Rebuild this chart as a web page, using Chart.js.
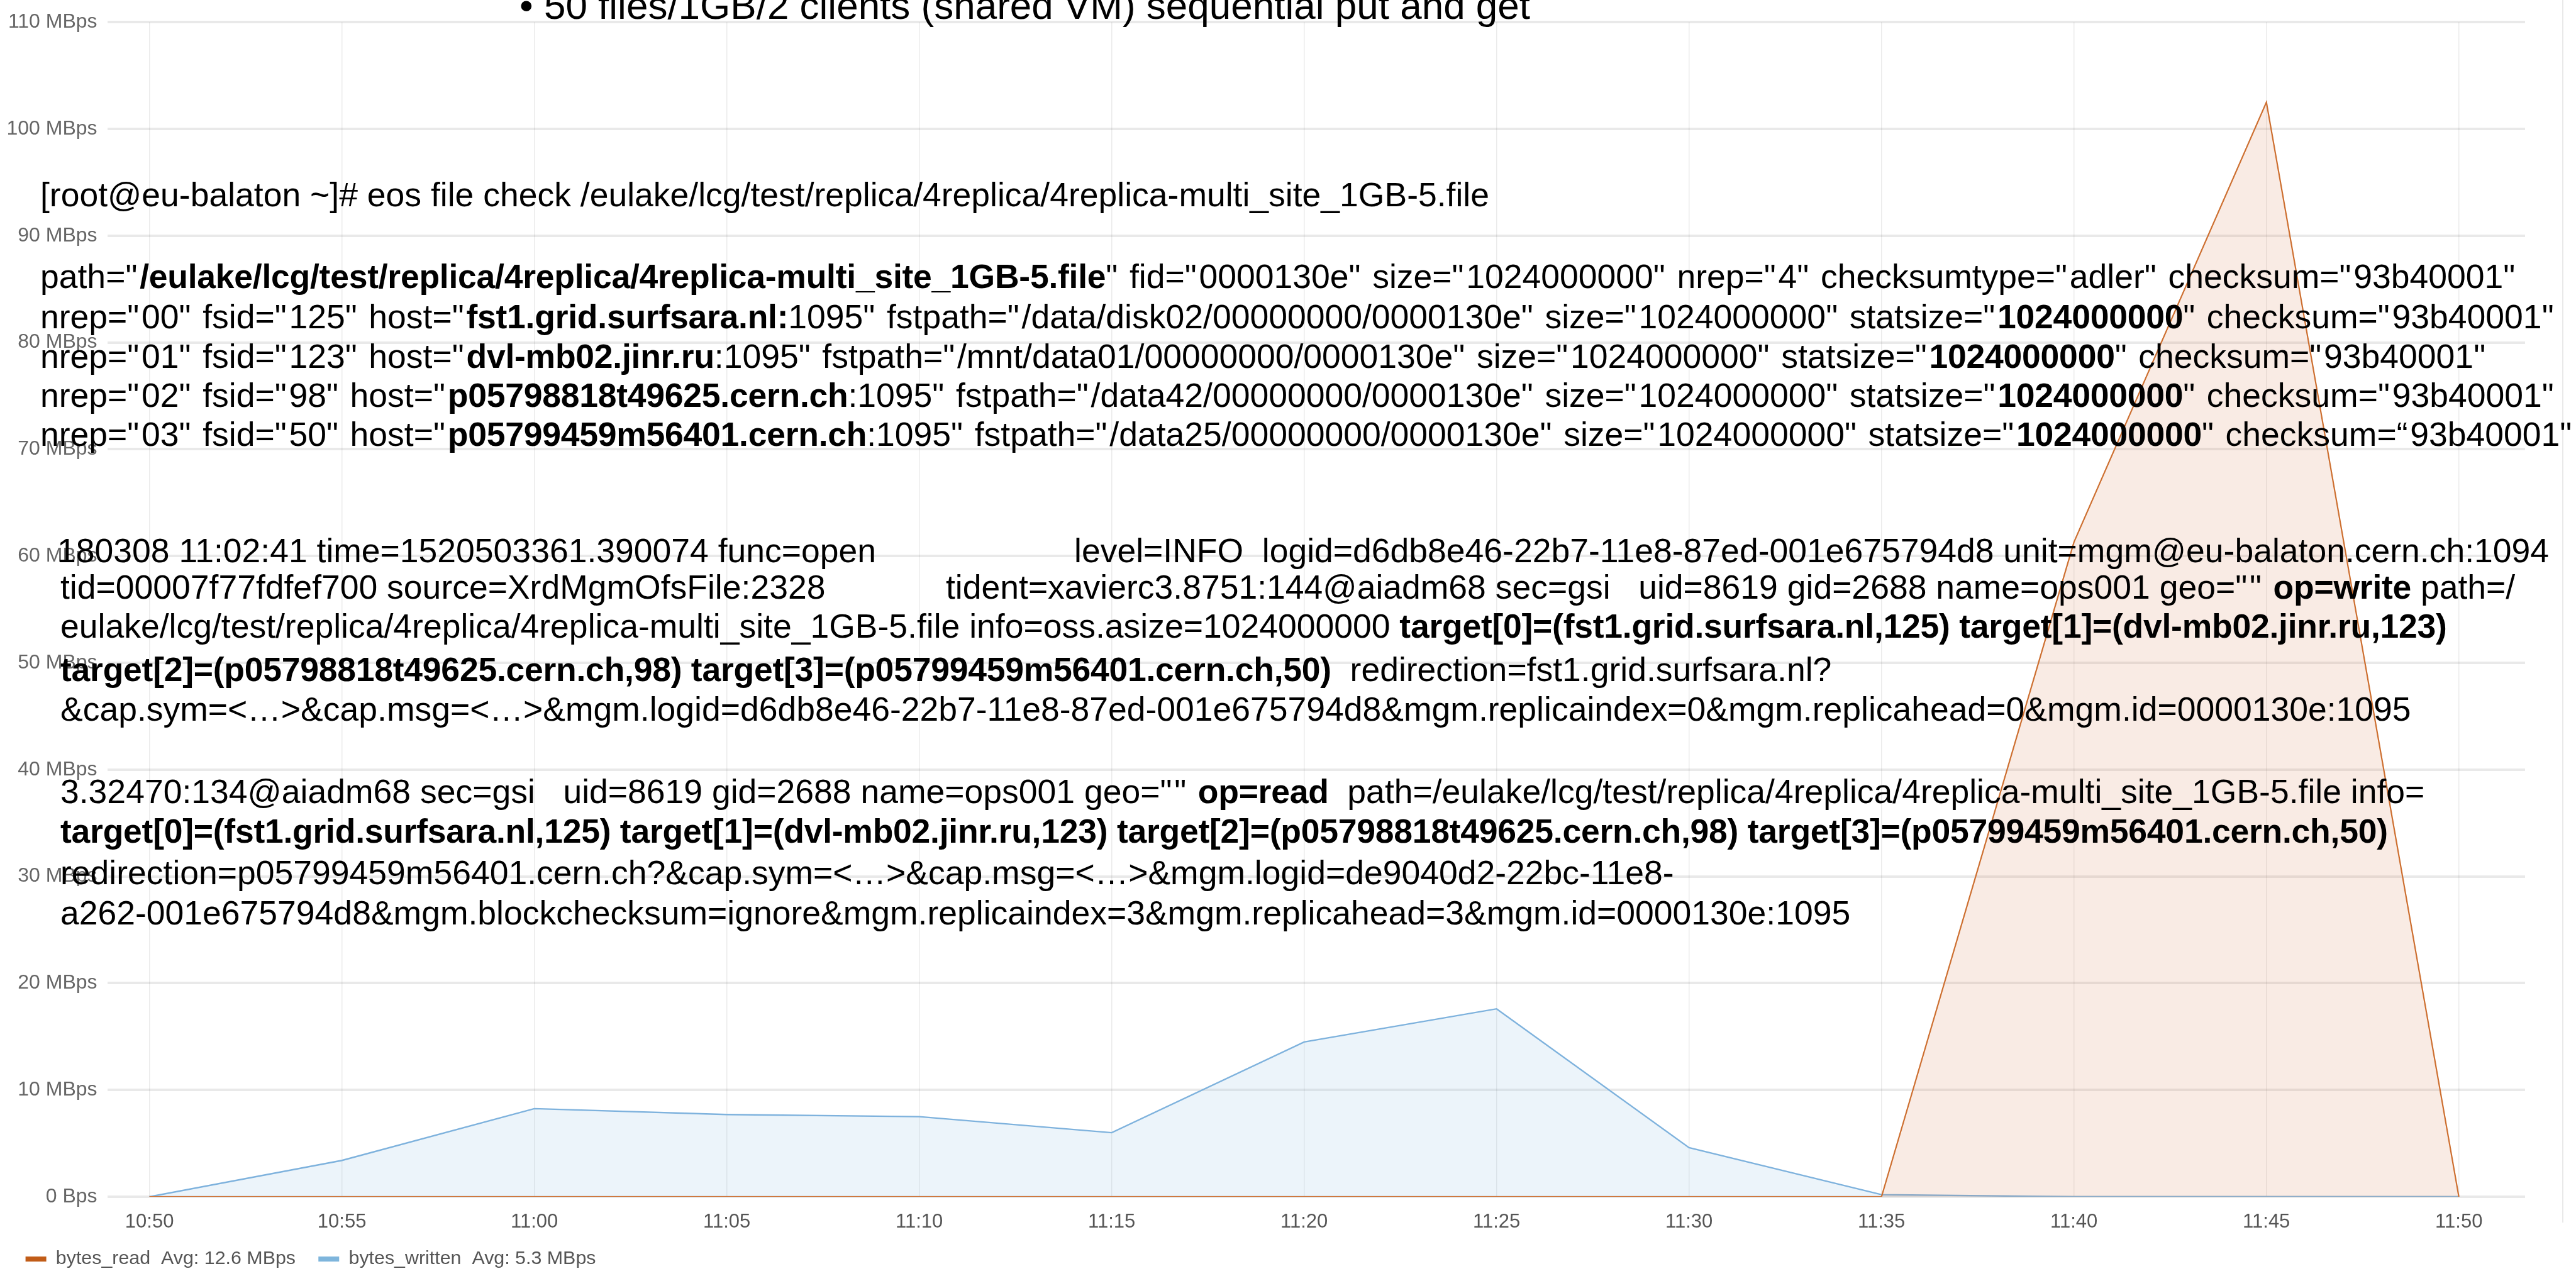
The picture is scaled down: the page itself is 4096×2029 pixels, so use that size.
<!DOCTYPE html>
<html>
<head>
<meta charset="utf-8">
<script src="https://cdn.jsdelivr.net/npm/chart.js@4.4.1/dist/chart.umd.min.js"></script>
<style>
  html, body { margin: 0; padding: 0; background: #fff; }
  #wrap { position: relative; width: 4096px; height: 2029px; overflow: hidden; }
  #chart { position: absolute; left: 0; top: 0; }
  .txt { position: absolute; white-space: pre; color: #000; line-height: 1;
         font-family: "Liberation Sans", Arial, sans-serif; }
  .txt b { font-weight: bold; letter-spacing: -0.25px; }
  .txt .q { letter-spacing: 0.07em; }  /* helvetica quotes are wider than arial's */
  #edge { position: absolute; left: 4074px; top: 0; width: 2px; height: 1944px; background: #e9e9e9; }
</style>
</head>
<body>
<div id="wrap">
  <canvas id="chart" width="4096" height="2029"></canvas>
  <div id="edge"></div>
  <div id="notes"></div>
</div>
<script>
// values, one point every 5 minutes
const times = ["10:50", "10:55", "11:00", "11:05", "11:10", "11:15", "11:20",
               "11:25", "11:30", "11:35", "11:40", "11:45", "11:50"];
const bytesRead = [0, 0, 0, 0, 0, 0, 0, 0, 0, 0, 61.3, 102.5, 0];          // MBps
const bytesWritten = [0, 3.4, 8.25, 7.7, 7.5, 6.0, 14.5, 17.6, 4.6, 0.2, 0, 0, 0]; // MBps
const yTicks = [0, 10, 20, 30, 40, 50, 60, 70, 80, 90, 100, 110];
const seriesNames = ["bytes_read", "bytes_written"];
const seriesAvg = ["12.6 MBps", "5.3 MBps"];

// slide text laid over the panel: [left, baseline, size, text], **...** is bold
const T = 53.5;
const notes = [
  [826, 30.6, 62, "• 50 files/1GB/2 clients (shared VM) sequential put and get"],

  [64, 328, T, "[root@eu-balaton ~]# eos file check /eulake/lcg/test/replica/4replica/4replica-multi_site_1GB-5.file"],
  [64, 458, T, 'path="**/eulake/lcg/test/replica/4replica/4replica-multi_site_1GB-5.file**" fid="0000130e" size="1024000000" nrep="4" checksumtype="adler" checksum="93b40001"'],
  [64, 522, T, 'nrep="00" fsid="125" host="**fst1.grid.surfsara.nl:**1095" fstpath="/data/disk02/00000000/0000130e" size="1024000000" statsize="**1024000000**" checksum="93b40001"'],
  [64, 585, T, 'nrep="01" fsid="123" host="**dvl-mb02.jinr.ru**:1095" fstpath="/mnt/data01/00000000/0000130e" size="1024000000" statsize="**1024000000**" checksum="93b40001"'],
  [64, 647.5, T, 'nrep="02" fsid="98" host="**p05798818t49625.cern.ch**:1095" fstpath="/data42/00000000/0000130e" size="1024000000" statsize="**1024000000**" checksum="93b40001"'],
  [64, 709.6, T, 'nrep="03" fsid="50" host="**p05799459m56401.cern.ch**:1095" fstpath="/data25/00000000/0000130e" size="1024000000" statsize="**1024000000**" checksum=“93b40001"'],

  [91, 894, T, "180308 11:02:41 time=1520503361.390074 func=open"],
  [1708, 894, T, "level=INFO  logid=d6db8e46-22b7-11e8-87ed-001e675794d8 unit=mgm@eu-balaton.cern.ch:1094"],
  [96, 952, T, "tid=00007f77fdfef700 source=XrdMgmOfsFile:2328"],
  [1504, 952, T, 'tident=xavierc3.8751:144@aiadm68 sec=gsi   uid=8619 gid=2688 name=ops001 geo="" **op=write** path=/'],
  [96, 1014, T, "eulake/lcg/test/replica/4replica/4replica-multi_site_1GB-5.file info=oss.asize=1024000000 **target[0]=(fst1.grid.surfsara.nl,125) target[1]=(dvl-mb02.jinr.ru,123)**"],
  [96, 1083, T, "**target[2]=(p05798818t49625.cern.ch,98) target[3]=(p05799459m56401.cern.ch,50)**  redirection=fst1.grid.surfsara.nl?"],
  [96, 1146, T, "&cap.sym=<…>&cap.msg=<…>&mgm.logid=d6db8e46-22b7-11e8-87ed-001e675794d8&mgm.replicaindex=0&mgm.replicahead=0&mgm.id=0000130e:1095"],

  [96, 1277, T, '3.32470:134@aiadm68 sec=gsi   uid=8619 gid=2688 name=ops001 geo="" **op=read**  path=/eulake/lcg/test/replica/4replica/4replica-multi_site_1GB-5.file info='],
  [96, 1340, T, "**target[0]=(fst1.grid.surfsara.nl,125) target[1]=(dvl-mb02.jinr.ru,123) target[2]=(p05798818t49625.cern.ch,98) target[3]=(p05799459m56401.cern.ch,50)**"],
  [96, 1406, T, "redirection=p05799459m56401.cern.ch?&cap.sym=<…>&cap.msg=<…>&mgm.logid=de9040d2-22bc-11e8-"],
  [96, 1470, T, "a262-001e675794d8&mgm.blockchecksum=ignore&mgm.replicaindex=3&mgm.replicahead=3&mgm.id=0000130e:1095"],
];

function minutesOf(t) {
  const [h, m] = t.split(":").map(Number);
  return h * 60 + m;
}

const t0 = minutesOf(times[0]);
const xs = times.map(t => minutesOf(t) - t0);

function points(values) {
  return xs.map((x, i) => ({ x: x, y: values[i] }));
}

function addPiece(parent, text) {
  text.split(/(["“])/).forEach((piece) => {
    if (!piece) return;
    if (piece === '"' || piece === "“") {
      const q = document.createElement("span");
      q.className = "q";
      q.textContent = piece;
      parent.appendChild(q);
    } else {
      parent.appendChild(document.createTextNode(piece));
    }
  });
}

function drawNotes() {
  const box = document.getElementById("notes");
  notes.forEach(([x, y, size, text]) => {
    const div = document.createElement("div");
    div.className = "txt";
    div.style.left = x + "px";
    div.style.top = (y - 0.846 * size) + "px";
    div.style.fontSize = size + "px";
    text.split("**").forEach((part, i) => {
      const span = document.createElement(i % 2 ? "b" : "span");
      addPiece(span, part);
      div.appendChild(span);
    });
    box.appendChild(div);
  });
}

Chart.defaults.font.family = '"Liberation Sans", Arial, sans-serif';

const legendColors = ["#c15c17", "#7eb5dc"];

const chart = new Chart(document.getElementById("chart"), {
  type: "line",
  data: {
    datasets: [
      {
        label: seriesNames[0],
        data: points(bytesRead),
        borderColor: "#cd6f30",
        backgroundColor: "rgba(205, 100, 50, 0.13)",
        borderWidth: 2.2,
        fill: "origin",
        pointRadius: 0,
      },
      {
        label: seriesNames[1],
        data: points(bytesWritten),
        borderColor: "#7eb2dd",
        backgroundColor: "rgba(126, 178, 221, 0.15)",
        borderWidth: 2.4,
        fill: "origin",
        pointRadius: 0,
      },
    ],
  },
  options: {
    responsive: false,
    animation: false,
    devicePixelRatio: 1,
    layout: { padding: { left: 12.8, top: 31.5, right: 81, bottom: 1.8 } },
    plugins: {
      tooltip: { enabled: false },
      legend: {
        position: "bottom",
        align: "start",
        labels: {
          boxWidth: 33,
          boxHeight: 8,
          padding: 27.8,
          color: "#555",
          font: { size: 30.4 },
          // trailing space widens the gap between the two entries
          generateLabels: (c) =>
            c.data.datasets.map((ds, i) => ({
              text: ds.label + "  Avg: " + seriesAvg[i] + " ",
              fillStyle: legendColors[i],
              strokeStyle: legendColors[i],
              lineWidth: 0,
              fontColor: "#555",
              hidden: false,
              datasetIndex: i,
            })),
        },
      },
    },
    scales: {
      x: {
        type: "linear",
        min: -1.095,
        max: 61.72,
        border: { display: false },
        grid: { color: "rgba(0, 0, 0, 0.08)", lineWidth: 1.5, drawTicks: false },
        ticks: {
          padding: 24.5,
          color: "#555",
          font: { size: 31, lineHeight: 1 },
          callback: (v) => times[xs.indexOf(v)],
        },
        afterBuildTicks: (scale) => {
          scale.ticks = xs.map((v) => ({ value: v }));
        },
        afterFit: (scale) => {
          scale.height = 56;
        },
      },
      y: {
        min: 0,
        max: 110,
        border: { display: false },
        grid: { color: "rgba(0, 0, 0, 0.085)", lineWidth: 4, drawTicks: false },
        ticks: {
          padding: 16,
          color: "#666",
          font: { size: 32 },
          callback: (v) => (v === 0 ? "0 Bps" : v + " MBps"),
        },
        afterBuildTicks: (scale) => {
          scale.ticks = yTicks.map((v) => ({ value: v }));
        },
        afterFit: (scale) => {
          scale.width = 157.8;
        },
      },
    },
  },
});

drawNotes();
</script>
</body>
</html>
